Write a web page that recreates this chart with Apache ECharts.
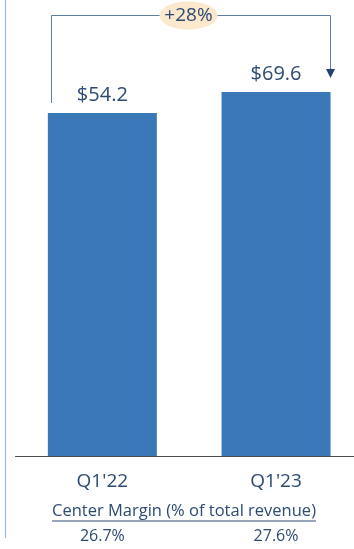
<!DOCTYPE html>
<html>
<head>
<meta charset="utf-8">
<script src="https://cdn.jsdelivr.net/npm/echarts@6/dist/echarts.min.js"></script>
<style>
  html, body { margin: 0; padding: 0; background: #ffffff; }
  #chart { width: 354px; height: 549px; }
</style>
</head>
<body>
<div id="chart"></div>
<script>
// Center revenue, Q1'22 vs Q1'23 ($M)
const quarters = ["Q1'22", "Q1'23"];
const revenue = [54.2, 69.6];
const centerMargin = ['26.7%', '27.6%'];
const marginTitle = 'Center Margin (% of total revenue)';

const FONT = '"Open Sans", "Noto Sans", sans-serif';
const TEXT = '#2c4a72';
const BAR = '#3a78b8';

// value axis is truncated: bars grow from the axis floor, not from zero
const axisMin = -197.3;
const axisMax = 137.1;

const chart = echarts.init(document.getElementById('chart'), null, { renderer: 'canvas' });

chart.setOption({
  backgroundColor: '#ffffff',
  animation: false,
  grid: { left: 15.5, right: -8.9, top: 0, bottom: 93, outerBoundsMode: 'none', containLabel: false },
  xAxis: {
    type: 'category',
    data: quarters,
    axisLine: { onZero: false, lineStyle: { color: '#4d4d4d', width: 1 } },
    axisTick: { show: false },
    axisLabel: {
      interval: 0,
      margin: 16,
      formatter: (v, i) => '{q|' + v + '}\n{m|' + centerMargin[i] + '}',
      rich: {
        q: { fontFamily: FONT, fontSize: 19, color: TEXT, lineHeight: 54, verticalAlign: 'top' },
        m: { fontFamily: FONT, fontSize: 16, color: TEXT, lineHeight: 20 }
      }
    }
  },
  yAxis: {
    type: 'value',
    min: axisMin,
    max: axisMax,
    startValue: axisMin,
    show: false
  },
  series: [{
    type: 'bar',
    data: revenue,
    barWidth: 109,
    itemStyle: { color: BAR },
    label: {
      show: true,
      position: 'top',
      distance: 8,
      formatter: p => '$' + p.value.toFixed(1),
      fontFamily: FONT,
      fontSize: 20,
      color: TEXT
    }
  }]
});

function drawAnnotations() {
  const half = 109 / 2;
  const p0 = chart.convertToPixel({ seriesIndex: 0 }, [0, revenue[0]]);
  const p1 = chart.convertToPixel({ seriesIndex: 0 }, [1, revenue[1]]);
  const leftX = Math.round(p0[0] - half + 3) + 0.5;
  const rightX = Math.round(p1[0] + half - 1) + 0.5;
  const topY = 15.5;
  const leftEnd = p0[1] - 10;
  const arrowTip = p1[1] - 14;
  const growth = '+' + Math.round((revenue[1] / revenue[0] - 1) * 100) + '%';
  const midX = (leftX + rightX) / 2 - 2.5;

  // underline width for the margin caption
  const titleSize = 16.5;
  const ctx = document.createElement('canvas').getContext('2d');
  ctx.font = titleSize + 'px ' + FONT;
  const titleW = ctx.measureText(marginTitle).width;
  const titleX = 184;
  const titleY = 511.5;

  const line = { stroke: '#5f7ea6', lineWidth: 1 };
  chart.setOption({
    graphic: [
      { type: 'line', shape: { x1: 5.5, y1: 0, x2: 5.5, y2: 538 }, style: { stroke: '#9fbbdf', lineWidth: 1.2 } },
      { type: 'polyline', shape: { points: [[leftX, leftEnd], [leftX, topY], [rightX, topY], [rightX, arrowTip - 8]] }, style: Object.assign({ fill: null }, line) },
      { type: 'polygon', shape: { points: [[rightX - 4.5, arrowTip - 9], [rightX + 4.5, arrowTip - 9], [rightX, arrowTip]] }, style: { fill: '#23426d' } },
      { type: 'ellipse', shape: { cx: midX, cy: topY, rx: 29, ry: 14 }, style: { fill: '#fce8cd' } },
      { type: 'text', x: midX, y: topY, style: { text: growth, fontFamily: FONT, fontSize: 19, fill: TEXT, align: 'center', verticalAlign: 'middle' } },
      { type: 'text', x: titleX, y: titleY, style: { text: marginTitle, fontFamily: FONT, fontSize: titleSize, fill: TEXT, align: 'center', verticalAlign: 'middle' } },
      { type: 'line', shape: { x1: titleX - titleW / 2, y1: titleY + 9.5, x2: titleX + titleW / 2, y2: titleY + 9.5 }, style: { stroke: TEXT, lineWidth: 1 } }
    ]
  });
}
drawAnnotations();
</script>
</body>
</html>
